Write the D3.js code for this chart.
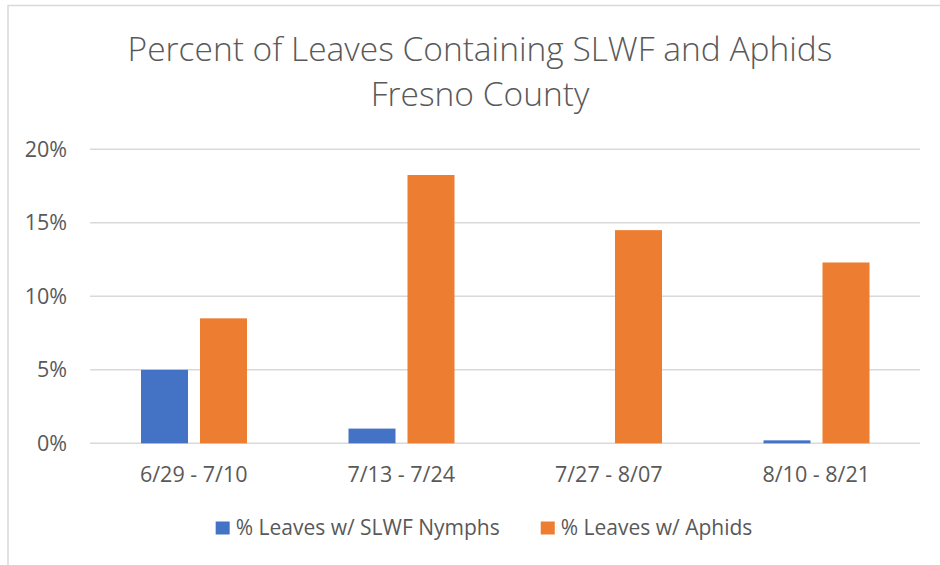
<!DOCTYPE html>
<html>
<head>
<meta charset="utf-8">
<script src="https://cdn.jsdelivr.net/npm/d3@7"></script>
<style>
  body { margin: 0; background: #fff; }
  #viz { width: 940px; height: 565px; }
  text { font-family: "Open Sans", sans-serif; fill: #595959; }
</style>
</head>
<body>
<div id="viz"></div>
<script>
// chart data
var categories = ['6/29 - 7/10', '7/13 - 7/24', '7/27 - 8/07', '8/10 - 8/21'];
var seriesNames = ['% Leaves w/ SLWF Nymphs', '% Leaves w/ Aphids'];
var nymphs = [0.050, 0.010, 0.000, 0.002];
var aphids = [0.085, 0.1825, 0.145, 0.123];
var yTicks = [0, 0.05, 0.10, 0.15, 0.20];
var titleLines = ['Percent of Leaves Containing SLWF and Aphids', 'Fresno County'];
var colors = ['#4472c4', '#ed7d31'];

function makeChart() {
    var width = 940, height = 565;
    var margin = { top: 149.3, right: 20, bottom: 121.7, left: 90 };

    var svg = d3.select('#viz')
        .append('svg')
        .attr('width', width)
        .attr('height', height);

    // chart border (right/bottom edges fall outside the picture)
    svg.append('rect')
        .attr('x', 8).attr('y', 5.5)
        .attr('width', 1000).attr('height', 700)
        .attr('fill', 'none')
        .attr('stroke', '#d9d9d9')
        .attr('stroke-width', 1.5);

    // title
    svg.append('text')
        .attr('x', 480).attr('y', 61)
        .attr('text-anchor', 'middle')
        .style('font-size', '33.5px')
        .style('font-weight', 300)
        .text(titleLines[0]);
    svg.append('text')
        .attr('x', 480).attr('y', 106)
        .attr('text-anchor', 'middle')
        .style('font-size', '33.5px')
        .style('font-weight', 300)
        .text(titleLines[1]);

    var x0 = d3.scaleBand()
        .domain(categories)
        .range([margin.left, width - margin.right])
        .padding(0);

    var bw = x0.bandwidth();
    var x1 = d3.scaleBand()
        .domain(seriesNames)
        .range([bw * 0.2458, bw * 0.7566])
        .paddingInner(0.2034)
        .paddingOuter(0);

    var y = d3.scaleLinear()
        .domain([0, 0.2])
        .range([height - margin.bottom, margin.top]);

    // gridlines
    svg.append('g')
        .selectAll('line')
        .data(yTicks)
        .join('line')
        .attr('x1', margin.left)
        .attr('x2', width - margin.right)
        .attr('y1', function (d) { return y(d); })
        .attr('y2', function (d) { return y(d); })
        .attr('stroke', '#d9d9d9')
        .attr('stroke-width', 1.5);

    // y axis labels
    var yAxis = d3.axisLeft(y)
        .tickValues(yTicks)
        .tickFormat(d3.format('.0%'))
        .tickSize(0)
        .tickPadding(23);
    var yg = svg.append('g')
        .attr('transform', 'translate(' + margin.left + ',0)')
        .call(yAxis);
    yg.select('.domain').remove();
    yg.selectAll('text')
        .style('font-size', '21.5px')
        .style('fill', '#595959')
        .attr('font-family', null);

    // bars
    var rows = categories.map(function (c, i) {
        return { cat: c, values: [nymphs[i], aphids[i]] };
    });

    var groups = svg.append('g')
        .selectAll('g')
        .data(rows)
        .join('g')
        .attr('transform', function (d) { return 'translate(' + x0(d.cat) + ',0)'; });

    groups.selectAll('rect')
        .data(function (d) {
            return d.values.map(function (v, j) { return { s: seriesNames[j], v: v, j: j }; });
        })
        .join('rect')
        .attr('x', function (d) { return x1(d.s); })
        .attr('width', x1.bandwidth())
        .attr('y', function (d) { return y(d.v); })
        .attr('height', function (d) { return y(0) - y(d.v); })
        .attr('fill', function (d) { return colors[d.j]; });

    // x axis labels
    var xAxis = d3.axisBottom(x0)
        .tickSize(0)
        .tickPadding(0);
    var xg = svg.append('g')
        .attr('transform', 'translate(0,' + y(0) + ')')
        .call(xAxis);
    xg.select('.domain').remove();
    xg.selectAll('text')
        .attr('dy', null)
        .attr('y', 39)
        .style('font-size', '21.5px')
        .style('fill', '#595959')
        .attr('font-family', null);

    // legend
    var legend = svg.append('g');
    var items = legend.selectAll('g')
        .data(seriesNames)
        .join('g');
    items.append('rect')
        .attr('width', 14).attr('height', 13)
        .attr('y', 521.5)
        .attr('fill', function (d, i) { return colors[i]; });
    items.append('text')
        .attr('x', 20).attr('y', 535)
        .style('font-size', '21px')
        .text(function (d) { return d; });

    var offs = [], cur = 0;
    items.each(function () {
        offs.push(cur);
        cur += this.getBBox().width + 41;
    });
    var total = cur - 41;
    var start = 484 - total / 2;
    items.attr('transform', function (d, i) { return 'translate(' + (start + offs[i]) + ',0)'; });
}

makeChart();
</script>
</body>
</html>
